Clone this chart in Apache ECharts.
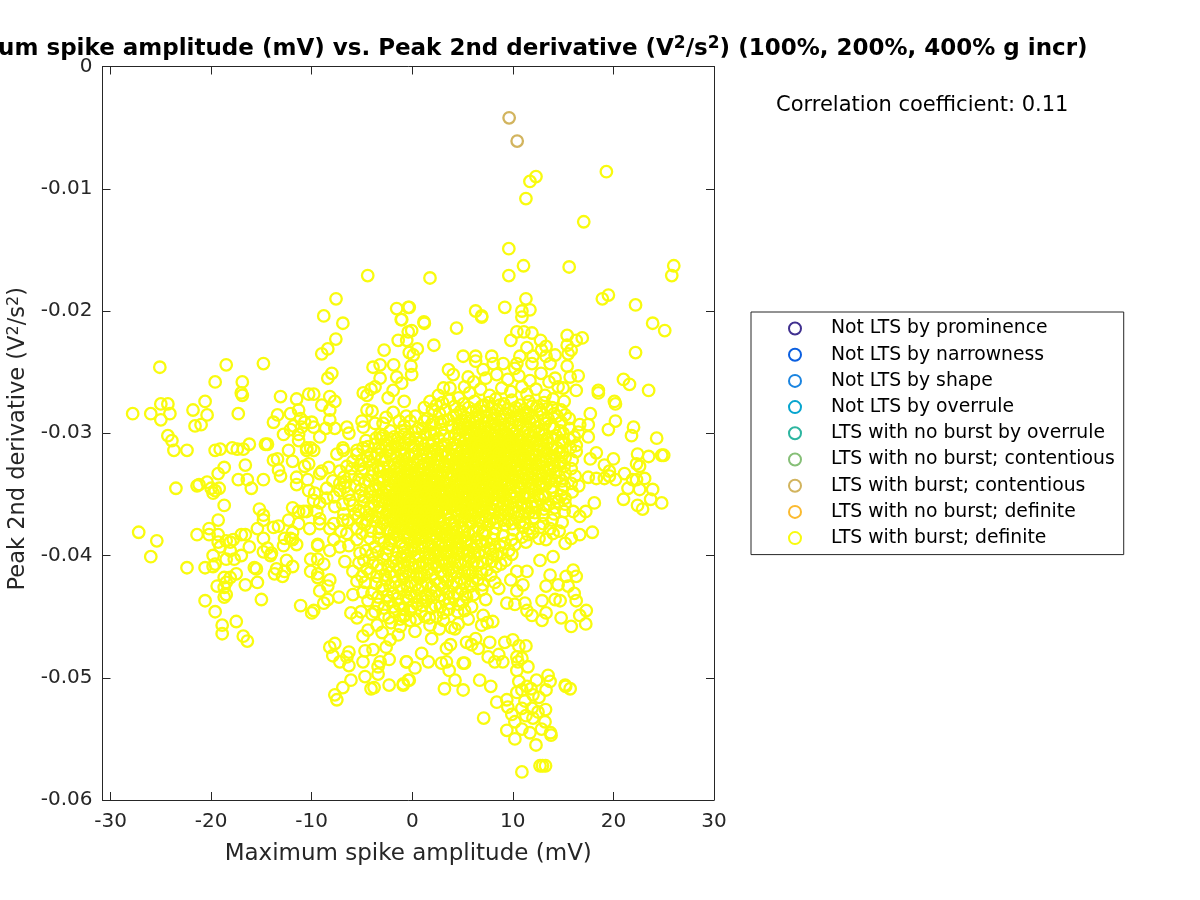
<!DOCTYPE html>
<html>
<head>
<meta charset="utf-8">
<script src="https://cdn.jsdelivr.net/npm/echarts@6/dist/echarts.min.js"></script>
<style>
  html, body { margin: 0; padding: 0; background: #fff; }
  #chart { width: 1200px; height: 900px; }
</style>
</head>
<body>
<div id="chart"></div>
<script>
const X_TICKS = [-30, -20, -10, 0, 10, 20, 30]

const LABELS = [
  'Not LTS by prominence', 'Not LTS by narrowness', 'Not LTS by shape', 'Not LTS by overrule',
  'LTS with no burst by overrule', 'LTS with no burst; contentious', 'LTS with burst; contentious',
  'LTS with no burst; definite', 'LTS with burst; definite',
]
const COLORS = ['#40308f', '#0b5fe0', '#1a84e0', '#06a5cf', '#2db5a0', '#86bf77', '#d2b45e', '#fbba2f', '#f9fb0e']

const burstContentious = [[9.63, -0.0042], [10.43, -0.0061]]

const topOutliers = [
  [12.3,-0.0090],[11.7,-0.0094],[11.3,-0.0108],[19.3,-0.0086],[17.05,-0.0127],[9.6,-0.0149],[11.06,-0.0163],[9.6,-0.0171],
  [15.6,-0.0164],[26,-0.0163],[25.8,-0.0171],[1.76,-0.0173],[-4.43,-0.0171],[11.3,-0.0190],[9.2,-0.0197],[10.9,-0.0200],
  [11.7,-0.0199],[10.9,-0.0205],[19.5,-0.0187],[18.9,-0.0190],[22.2,-0.0195],[23.9,-0.0210],[25.1,-0.0216],[22.2,-0.0234],
  [-0.3,-0.0197],[-1.05,-0.0207],[1.16,-0.0209],[1.2,-0.0210],[6.3,-0.0200],[6.9,-0.0204],[6.9,-0.0205],[4.4,-0.0214],
  [2.15,-0.0228],[-0.06,-0.0216],[-0.4,-0.0217],[-0.55,-0.0224],[0.5,-0.0231],[-0.3,-0.0234],[0.1,-0.0236],[-0.13,-0.0245],
  [-0.06,-0.0252],[9.8,-0.0224],[10.4,-0.0217],[11.1,-0.0217],[11.9,-0.0218],[12.75,-0.0224],[15.4,-0.0220],[16.3,-0.0224],
  [16.9,-0.0222],[15.4,-0.0228],[15.8,-0.0232],[15.5,-0.0235],[13.3,-0.0229],[14.2,-0.0236],[13.3,-0.0237],[11.4,-0.0230],
  [10.7,-0.0237],[10.4,-0.0243],[11.9,-0.0243],[12.85,-0.0232],[13.7,-0.0243],[12,-0.0237],[10.2,-0.0247],[5.06,-0.0237],
  [6.3,-0.0237],[6.3,-0.0241],[7.9,-0.0237],[9.04,-0.0243],[8.05,-0.0243],[7.05,-0.0248],[5.56,-0.0254],[3.6,-0.0248],
  [4.07,-0.0252],[3.75,-0.0263],[3.1,-0.0263],[2.6,-0.0269],[1.76,-0.0274],[16.5,-0.0253],[15.7,-0.0254],[15.4,-0.0245],
  [14.2,-0.0255],[15,-0.0263],[16.3,-0.0265],[18.5,-0.0265],[18.5,-0.0267],[20.1,-0.0274],[21,-0.0256],[21.6,-0.0260],[23.5,-0.0265],
]
const leftUpper = [
  [-7.58,-0.0190],[-8.8,-0.0204],[-6.9,-0.0210],[-7.6,-0.0223],[-8.4,-0.0231],[-9,-0.0235],[-2.8,-0.0232],[-1.55,-0.0198],
  [-0.4,-0.0197],[-1.1,-0.0207],[-1.4,-0.0224],[-25.1,-0.0246],[-18.5,-0.0244],[-14.8,-0.0243],[-19.6,-0.0258],[-16.9,-0.0258],
  [-17,-0.0267],[-16.9,-0.0269],[-27.8,-0.0284],[-26,-0.0284],[-25,-0.0276],[-24.3,-0.0276],[-24.1,-0.0284],[-25,-0.0289],
  [-21.8,-0.0281],[-20.6,-0.0274],[-20.4,-0.0285],[-21.6,-0.0294],[-21,-0.0293],[-17.3,-0.0284],[-13.1,-0.0270],[-11.5,-0.0272],
  [-10.3,-0.0268],[-9.8,-0.0268],[-8.2,-0.0270],[-7.7,-0.0274],[-9,-0.0277],[-8.2,-0.0281],[-8,-0.0251],[-8.4,-0.0255],
  [-3.9,-0.0246],[-3.2,-0.0244],[-1.85,-0.0244],[-13.4,-0.0285],[-13.8,-0.0291],[-12.1,-0.0284],[-11.3,-0.0281],[-11.1,-0.0288],
  [-11.8,-0.0294],[-10.7,-0.0291],[-10,-0.0291],[-12.8,-0.0301],[-12.1,-0.0297],[-11.3,-0.0301],[-11,-0.0295],[-9.8,-0.0295],
  [-9.2,-0.0303],[-8.6,-0.0296],[-7.7,-0.0296],[-8.2,-0.0289],[-6.5,-0.0295],[-6.3,-0.0300],[-24.3,-0.0302],[-23.9,-0.0306],
  [-16.2,-0.0309],[-14.6,-0.0309],[-14.4,-0.0309],[-23.7,-0.0314],[-22.4,-0.0314],[-19.6,-0.0314],[-19.1,-0.0313],[-17.9,-0.0312],
  [-17.4,-0.0313],[-16.8,-0.0313],[-4.87,-0.0267],[-4.5,-0.0269],[-4.1,-0.0264],[-3.7,-0.0262],[-3.2,-0.0255],[-2.4,-0.0271],
  [-1.9,-0.0265],[-1.55,-0.0254],[-1.05,-0.0259],[-0.8,-0.0274],[-4.5,-0.0281],[-4,-0.0282],[-5,-0.0290],[-4.87,-0.0295],
  [-3.7,-0.0292],[-2.9,-0.0292],[-1.9,-0.0283],[-3.2,-0.0301],[-2.2,-0.0298],[-1.05,-0.0298],[-0.4,-0.0303],[-1.4,-0.0308],
  [-6.85,-0.0314],[-5.5,-0.0314],[-10.5,-0.0312],[-10.1,-0.0312],[-12.3,-0.0314],
]
const leftLower = [
  [-18.7,-0.0328],[-19.3,-0.0333],[-16.6,-0.0326],[-17.3,-0.0338],[-16.4,-0.0338],[-16,-0.0345],[-14.8,-0.0338],[-23.5,-0.0345],
  [-21.4,-0.0343],[-21.2,-0.0342],[-20.4,-0.0340],[-20,-0.0345],[-19.6,-0.0347],[-19.2,-0.0345],[-19.8,-0.0349],[-18.7,-0.0359],
  [-19.3,-0.0371],[-20.2,-0.0378],[-20.2,-0.0383],[-21.4,-0.0383],[-27.2,-0.0381],[-25.4,-0.0388],[-26,-0.0401],[-22.4,-0.0410],
  [-20.6,-0.0410],[-19.8,-0.0400],[-19.6,-0.0407],[-19.8,-0.0409],[-19.3,-0.0383],[-19.3,-0.0389],[-19.1,-0.0393],[-18.5,-0.0403],
  [-18.1,-0.0389],[-18.1,-0.0396],[-17.7,-0.0403],[-17,-0.0400],[-18.5,-0.0388],[-17.8,-0.0387],[-17,-0.0383],[-16.6,-0.0383],
  [-16.2,-0.0393],[-15.4,-0.0378],[-14.8,-0.0371],[-15.2,-0.0362],[-14.8,-0.0367],[-14.8,-0.0386],[-13.8,-0.0377],[-13.3,-0.0376],
  [-12.3,-0.0371],[-11.9,-0.0361],[-11.3,-0.0374],[-11.9,-0.0381],[-12.7,-0.0386],[-12.1,-0.0386],[-11.5,-0.0391],[-11.9,-0.0387],
  [-12.8,-0.0392],[-14.8,-0.0397],[-14.4,-0.0394],[-14,-0.0398],[-14.1,-0.0400],[-15.7,-0.0410],[-15.5,-0.0411],[-17.5,-0.0415],
  [-18.7,-0.0418],[-18.1,-0.0418],[-18.5,-0.0422],[-19.4,-0.0425],[-18.7,-0.0426],[-18.5,-0.0432],[-18.7,-0.0434],[-16.6,-0.0424],
  [-15.4,-0.0422],[-15,-0.0436],[-20.6,-0.0437],[-19.6,-0.0446],[-18.9,-0.0457],[-18.9,-0.0464],[-17.5,-0.0454],[-16.8,-0.0466],
  [-16.4,-0.0470],[-11.9,-0.0409],[-13.7,-0.0415],[-12.9,-0.0417],[-13.5,-0.0411],[-12.7,-0.0413],[-12.5,-0.0404],[-11.1,-0.0441],
  [-10,-0.0447],[-9.8,-0.0445],[-10.1,-0.0403],[-10.1,-0.0413],[-9.4,-0.0391],[-9.4,-0.0392],[-9.4,-0.0403],[-9.4,-0.0415],
  [-9.4,-0.0418],[-8.8,-0.0407],[-8.2,-0.0420],[-8.4,-0.0425],[-9.2,-0.0429],[-8.4,-0.0436],[-8.8,-0.0439],[-7.3,-0.0434],
  [-8.2,-0.0475],[-7.7,-0.0472],[-7.9,-0.0482],[-7.2,-0.0487],[-6.5,-0.0483],[-6.3,-0.0479],[-6.3,-0.0490],[-5.9,-0.0432],
  [-6.1,-0.0447],[-5.5,-0.0451],[-5.9,-0.0413],[-5,-0.0417],[-7.7,-0.0514],[-7.5,-0.0518],[-6.9,-0.0508],[-6.1,-0.0502],
  [-4.7,-0.0499],[-4.1,-0.0509],[-3.8,-0.0508],[-2.3,-0.0506],[-0.9,-0.0506],[-0.4,-0.0502],[-4.9,-0.0487],[-4.7,-0.0478],
  [-4.9,-0.0466],[-4.4,-0.0461],[-3.9,-0.0477],[-3.4,-0.0491],[-3.4,-0.0497],[-3.2,-0.0487],[-2.6,-0.0475],[-2.2,-0.0469],
  [-2.3,-0.0485],[-0.6,-0.0487],[-11.9,-0.0323],[-11.3,-0.0306],[-10.5,-0.0314],[-9.8,-0.0314],[-10.3,-0.0325],[-10.7,-0.0327],
  [-9.2,-0.0333],[-9,-0.0331],[-11.5,-0.0336],[-11.5,-0.0342],[-10.4,-0.0338],[-13.1,-0.0335],[-13.3,-0.0330],[-13.8,-0.0322],
  [-13.4,-0.0321],[-10.3,-0.0347],[-9.7,-0.0349],[-9.8,-0.0355],[-8.5,-0.0345],[-7.8,-0.0352],[-7.2,-0.0347],[-8.5,-0.0353],
  [-7.7,-0.0360],[-7.2,-0.0341],[-7.5,-0.0317],[-6.9,-0.0312],[-7.2,-0.0331],[-6.5,-0.0327],[-5.5,-0.0317],[-4.5,-0.0319],
  [-3.5,-0.0317],[-10.5,-0.0364],[-10.8,-0.0364],[-9.2,-0.0370],[-10.2,-0.0378],[-9.2,-0.0374],[-11.3,-0.0364],[-9.5,-0.0364],
  [-7.8,-0.0374],[-6.9,-0.0371],[-8.2,-0.0378],[-6.5,-0.0382],[-5.7,-0.0366],[-5.5,-0.0378],[-7.8,-0.0387],[-7.2,-0.0393],
  [-8.2,-0.0396],[-5.5,-0.0387],[-4.5,-0.0371],[-5.2,-0.0398],[-9.2,-0.0357],
]
const rightFringe = [
  [17.7,-0.0284],[20.2,-0.0276],[20.2,-0.0290],[19.5,-0.0297],[22,-0.0295],[21.8,-0.0302],[24.3,-0.0304],[16.65,-0.0293],
  [17.5,-0.0293],[17.5,-0.0303],[16.5,-0.0299],[16.3,-0.0310],[16.3,-0.0315],[15,-0.0300],[15.2,-0.0285],[15,-0.0308],
  [18.3,-0.0316],[17.7,-0.0321],[20,-0.0321],[19.1,-0.0326],[14.7,-0.0324],[14.75,-0.0325],[14.68,-0.0323],[22.4,-0.0317],[23.5,-0.0319],
  [24.8,-0.0318],[25,-0.0318],[22.3,-0.0325],[22.6,-0.0327],[17.5,-0.0336],[18.3,-0.0337],[19.1,-0.0337],[19.6,-0.0331],
  [19.6,-0.0335],[20.2,-0.0338],[21.1,-0.0333],[23.1,-0.0337],[22.3,-0.0338],[16.55,-0.0343],[21.45,-0.0345],[21.9,-0.0338],
  [22.6,-0.0346],[23.9,-0.0346],[23.7,-0.0354],[21,-0.0354],[24.8,-0.0357],[22.4,-0.0359],[22.9,-0.0362],[18.1,-0.0357],
  [15.2,-0.0353],[16,-0.0364],[17.25,-0.0364],[16.65,-0.0368],[17.9,-0.0381],[16.65,-0.0383],[15.8,-0.0386],[15.2,-0.0390],
  [14,-0.0382],[13.3,-0.0387],[12.7,-0.0404],[14,-0.0401],[11.4,-0.0413],[10.4,-0.0413],[9.8,-0.0420],[11,-0.0424],[10.4,-0.0429],
  [16,-0.0412],[15.3,-0.0417],[16.3,-0.0417],[13.7,-0.0416],[13.3,-0.0425],[14.5,-0.0424],[15.5,-0.0425],[16.1,-0.0431],
  [16.3,-0.0437],[14.7,-0.0437],[14.2,-0.0436],[12.9,-0.0437],[13.3,-0.0447],[14.8,-0.0451],[15.8,-0.0458],[17.25,-0.0456],
  [17.3,-0.0445],[16.65,-0.0449],[12.9,-0.0453],[11.9,-0.0449],[11.4,-0.0445],[11.2,-0.0439],[10.2,-0.0440],[9.4,-0.0439],
]
const bottomTail = [
  [8.2,-0.0422],[8.6,-0.0427],[6.9,-0.0428],[7.3,-0.0436],[5.9,-0.0442],[7.05,-0.0449],[8,-0.0454],[7.45,-0.0455],[6.9,-0.0457],
  [4.25,-0.0460],[5.56,-0.0452],[4.57,-0.0456],[1.93,-0.0468],[1.26,-0.0450],[0.27,-0.0462],[-0.23,-0.0453],[-0.9,-0.0450],
  [1.76,-0.0457],[3.1,-0.0447],[6.3,-0.0468],[5.4,-0.0471],[5.9,-0.0473],[6.55,-0.0476],[7.7,-0.0471],[9.2,-0.0471],[10,-0.0469],
  [10.6,-0.0474],[11.3,-0.0474],[3.8,-0.0473],[3.4,-0.0476],[0.93,-0.0480],[1.6,-0.0487],[-0.56,-0.0487],[0.27,-0.0492],
  [2.9,-0.0488],[3.4,-0.0487],[3.67,-0.0494],[5.06,-0.0488],[5.2,-0.0488],[7.55,-0.0483],[8.2,-0.0487],[8.6,-0.0481],[9,-0.0487],
  [10.4,-0.0483],[10.9,-0.0484],[10.4,-0.0494],[11.5,-0.0491],[10.5,-0.0487],[-0.3,-0.0502],[-0.9,-0.0505],[4.25,-0.0502],
  [6.7,-0.0502],[7.8,-0.0507],[3.2,-0.0509],[5.06,-0.0510],[7.1,-0.0533],[8.4,-0.0520],[12.35,-0.0502],[13.5,-0.0498],
  [13.7,-0.0503],[13.3,-0.0510],[15.2,-0.0506],[15.7,-0.0509],[15.25,-0.0507],[10.4,-0.0512],[11.4,-0.0507],[10.9,-0.0510],
  [12,-0.0514],[9.4,-0.0518],[9.5,-0.0524],[10.9,-0.0525],[11.9,-0.0525],[13.25,-0.0526],[12.5,-0.0528],[9.9,-0.0530],
  [10.2,-0.0536],[12,-0.0533],[13.2,-0.0536],[12.85,-0.0542],[10.9,-0.0542],[9.4,-0.0543],[10.2,-0.0550],[11.7,-0.0545],
  [12.3,-0.0555],[13.8,-0.0547],[13.75,-0.0545],[10.9,-0.0577],[12.95,-0.0572],[12.7,-0.0572],[13.25,-0.0572],[11.2,-0.0519],
  [11.8,-0.0509],[12.6,-0.0516],[11.3,-0.0531],[10.6,-0.0503],
]
// dense middle, estimated by eye
const coreTop = [
  [5.2,-0.0262],[6.1,-0.0258],[7.3,-0.0255],[8.4,-0.0252],[9.5,-0.0256],[10.6,-0.0253],[11.7,-0.0257],[12.8,-0.0251],[13.6,-0.0258],[14.5,-0.0262],
  [4.6,-0.0271],[5.7,-0.0267],[6.8,-0.0264],[7.7,-0.0269],[8.9,-0.0263],[9.8,-0.0266],[10.9,-0.0262],[11.4,-0.0268],[12.3,-0.0264],[13.2,-0.0269],[14,-0.0272],[15.1,-0.0274],
  [1.2,-0.0279],[2.4,-0.0277],[3.3,-0.0281],[4.2,-0.0278],[5.1,-0.0276],[6.2,-0.0274],[6.9,-0.0278],[7.6,-0.0275],[8.3,-0.0272],[9.1,-0.0276],[9.9,-0.0273],[10.7,-0.0277],[11.6,-0.0274],[12.4,-0.0278],[13.1,-0.0275],[13.9,-0.0279],[14.8,-0.0281],
  [0.3,-0.0286],[1.5,-0.0288],[2.7,-0.0284],[3.6,-0.0289],[4.4,-0.0285],[5.3,-0.0287],[5.9,-0.0283],[6.6,-0.0286],[7.2,-0.0282],[7.9,-0.0285],[8.5,-0.0281],[9.3,-0.0284],[10.1,-0.0282],[10.8,-0.0286],[11.3,-0.0283],[12,-0.0287],[12.8,-0.0284],[13.5,-0.0288],[14.4,-0.0286],
  [-0.8,-0.0294],[0.6,-0.0296],[1.9,-0.0293],[2.9,-0.0297],[3.9,-0.0294],[4.7,-0.0292],[5.5,-0.0295],[6.2,-0.0291],[6.8,-0.0294],[7.5,-0.0290],[8.2,-0.0293],[8.8,-0.0289],[9.6,-0.0292],[10.3,-0.0290],[11,-0.0294],[11.7,-0.0291],[12.4,-0.0295],[13.2,-0.0292],[14.1,-0.0296],
]
const coreRight = [
  [4.3,-0.0301],[5,-0.0298],[5.7,-0.0302],[6.4,-0.0299],[7,-0.0303],[7.6,-0.0298],[8.1,-0.0301],[8.7,-0.0297],[9.3,-0.0300],[9.9,-0.0298],[10.5,-0.0302],[11.2,-0.0299],[11.9,-0.0303],[12.6,-0.0300],[13.4,-0.0304],[14.3,-0.0302],
  [4.1,-0.0309],[4.8,-0.0306],[5.4,-0.0310],[6,-0.0307],[6.6,-0.0305],[7.2,-0.0309],[7.8,-0.0306],[8.4,-0.0304],[9,-0.0308],[9.6,-0.0305],[10.2,-0.0309],[10.8,-0.0306],[11.4,-0.0310],[12,-0.0307],[12.7,-0.0311],[13.5,-0.0308],[14.4,-0.0312],
  [3.6,-0.0317],[4.4,-0.0314],[5,-0.0313],[5.6,-0.0317],[6.3,-0.0312],[6.9,-0.0316],[7.4,-0.0313],[8,-0.0311],[8.6,-0.0315],[9.2,-0.0312],[9.8,-0.0316],[10.4,-0.0313],[11,-0.0317],[11.6,-0.0314],[12.3,-0.0318],[13,-0.0315],[13.8,-0.0319],[14.6,-0.0316],
  [3.2,-0.0325],[3.9,-0.0322],[4.6,-0.0321],[5.2,-0.0324],[5.8,-0.0320],[6.5,-0.0323],[7.1,-0.0320],[7.7,-0.0324],[8.3,-0.0319],[8.9,-0.0322],[9.5,-0.0320],[10.1,-0.0324],[10.7,-0.0321],[11.3,-0.0325],[11.9,-0.0322],[12.6,-0.0326],[13.3,-0.0323],[14.1,-0.0327],
  [3.5,-0.0332],[4.2,-0.0329],[4.9,-0.0331],[5.5,-0.0328],[6.1,-0.0332],[6.7,-0.0329],[7.3,-0.0327],[7.9,-0.0331],[8.5,-0.0328],[9.1,-0.0330],[9.7,-0.0327],[10.3,-0.0331],[10.9,-0.0329],[11.5,-0.0333],[12.2,-0.0330],[12.9,-0.0334],[13.7,-0.0331],[14.6,-0.0335],
  [3.1,-0.0339],[3.8,-0.0337],[4.5,-0.0338],[5.1,-0.0335],[5.7,-0.0339],[6.3,-0.0336],[6.9,-0.0340],[7.5,-0.0335],[8.1,-0.0338],[8.7,-0.0336],[9.3,-0.0339],[9.9,-0.0336],[10.5,-0.0340],[11.1,-0.0337],[11.8,-0.0341],[12.5,-0.0338],[13.3,-0.0342],[14.2,-0.0339],[15.1,-0.0343],
  [3.4,-0.0347],[4.1,-0.0344],[4.8,-0.0346],[5.4,-0.0343],[6,-0.0347],[6.6,-0.0344],[7.2,-0.0342],[7.8,-0.0346],[8.4,-0.0344],[9,-0.0347],[9.6,-0.0345],[10.2,-0.0348],[10.8,-0.0345],[11.5,-0.0349],[12.2,-0.0346],[13,-0.0350],[13.9,-0.0347],[14.8,-0.0351],
  [3.6,-0.0354],[4.4,-0.0352],[5.1,-0.0354],[5.7,-0.0351],[6.3,-0.0355],[6.9,-0.0352],[7.5,-0.0350],[8.1,-0.0354],[8.7,-0.0351],[9.3,-0.0355],[9.9,-0.0353],[10.5,-0.0356],[11.2,-0.0353],[11.9,-0.0357],[12.7,-0.0354],[13.6,-0.0358],[14.5,-0.0356],
  [3.3,-0.0362],[4.1,-0.0360],[4.8,-0.0362],[5.4,-0.0359],[6,-0.0363],[6.6,-0.0360],[7.2,-0.0358],[7.8,-0.0362],[8.5,-0.0359],[9.2,-0.0363],[9.9,-0.0361],[10.6,-0.0364],[11.4,-0.0361],[12.2,-0.0365],[13.1,-0.0362],[14.1,-0.0366],
  [3.7,-0.0370],[4.5,-0.0367],[5.2,-0.0369],[5.9,-0.0367],[6.6,-0.0371],[7.3,-0.0368],[8,-0.0370],[8.8,-0.0367],[9.6,-0.0371],[10.4,-0.0369],[11.2,-0.0373],[12.1,-0.0370],[13,-0.0374],
]
const coreLeft = [
  [-4.6,-0.0306],[-3.7,-0.0309],[-2.6,-0.0306],[-1.7,-0.0311],[-0.7,-0.0308],[0.4,-0.0304],[1.3,-0.0301],[1.6,-0.0308],[2.6,-0.0304],[3.2,-0.0309],
  [-4.1,-0.0317],[-3.1,-0.0314],[-2.2,-0.0318],[-1.2,-0.0315],[-0.3,-0.0319],[0.6,-0.0314],[1.4,-0.0317],[2.2,-0.0313],[2.9,-0.0318],
  [-5.2,-0.0326],[-4.3,-0.0323],[-3.4,-0.0327],[-2.7,-0.0322],[-1.8,-0.0325],[-1,-0.0322],[-0.2,-0.0326],[0.5,-0.0322],[1.2,-0.0325],[1.9,-0.0321],[2.6,-0.0327],
  [-6.1,-0.0335],[-5,-0.0332],[-4.1,-0.0335],[-3.2,-0.0331],[-2.5,-0.0334],[-1.8,-0.0331],[-1.1,-0.0335],[-0.5,-0.0330],[0.2,-0.0333],[0.8,-0.0330],[1.5,-0.0334],[2.2,-0.0331],[2.8,-0.0335],
  [-5.7,-0.0343],[-4.7,-0.0340],[-3.7,-0.0343],[-2.9,-0.0339],[-2.2,-0.0342],[-1.6,-0.0338],[-0.9,-0.0341],[-0.3,-0.0338],[0.3,-0.0341],[0.9,-0.0338],[1.5,-0.0342],[2.1,-0.0339],[2.7,-0.0343],
  [-5.2,-0.0351],[-4.2,-0.0348],[-3.4,-0.0351],[-2.6,-0.0347],[-1.9,-0.0350],[-1.3,-0.0346],[-0.7,-0.0349],[-0.1,-0.0346],[0.5,-0.0349],[1.1,-0.0346],[1.7,-0.0350],[2.3,-0.0347],[2.9,-0.0351],
  [-5.9,-0.0359],[-4.8,-0.0356],[-3.8,-0.0359],[-3,-0.0355],[-2.3,-0.0358],[-1.7,-0.0354],[-1,-0.0357],[-0.4,-0.0354],[0.2,-0.0357],[0.8,-0.0354],[1.4,-0.0358],[2,-0.0355],[2.6,-0.0359],
  [-4.3,-0.0367],[-3.4,-0.0364],[-2.6,-0.0366],[-1.9,-0.0362],[-1.3,-0.0365],[-0.7,-0.0362],[-0.1,-0.0365],[0.5,-0.0362],[1.1,-0.0366],[1.7,-0.0363],[2.3,-0.0367],[2.9,-0.0364],
  [-4.7,-0.0375],[-3.7,-0.0372],[-2.9,-0.0374],[-2.2,-0.0370],[-1.5,-0.0373],[-0.9,-0.0370],[-0.3,-0.0373],[0.3,-0.0370],[0.9,-0.0374],[1.5,-0.0371],[2.1,-0.0375],[2.8,-0.0372],
  [-3.3,-0.0381],[-2.5,-0.0378],[-1.8,-0.0381],[-1.1,-0.0378],[-0.5,-0.0381],[0.1,-0.0378],[0.7,-0.0382],[1.3,-0.0379],[1.9,-0.0383],[2.6,-0.0380],
]
const coreBelow = [
  [3.4,-0.0378],[4.2,-0.0375],[5,-0.0377],[5.8,-0.0374],[6.6,-0.0378],[7.5,-0.0375],[8.3,-0.0378],[9.2,-0.0375],[10.1,-0.0379],[11,-0.0377],[12,-0.0381],
  [-2.8,-0.0389],[-1.9,-0.0386],[-1.2,-0.0389],[-0.5,-0.0386],[0.2,-0.0389],[0.9,-0.0386],[1.6,-0.0390],[2.4,-0.0387],[3.2,-0.0385],[4,-0.0383],[4.8,-0.0386],[5.6,-0.0382],[6.4,-0.0386],[7.2,-0.0383],[8.1,-0.0387],[9,-0.0384],[9.9,-0.0387],[10.9,-0.0385],
  [-3.4,-0.0397],[-2.4,-0.0394],[-1.5,-0.0397],[-0.8,-0.0394],[-0.1,-0.0397],[0.6,-0.0394],[1.3,-0.0398],[2.1,-0.0395],[2.9,-0.0392],[3.7,-0.0391],[4.5,-0.0394],[5.3,-0.0390],[6.1,-0.0394],[6.9,-0.0391],[7.8,-0.0395],[8.7,-0.0392],[9.6,-0.0396],
  [-3.9,-0.0406],[-2.9,-0.0403],[-1.9,-0.0405],[-1.1,-0.0402],[-0.4,-0.0405],[0.3,-0.0402],[1,-0.0406],[1.8,-0.0403],[2.6,-0.0400],[3.4,-0.0399],[4.2,-0.0402],[5,-0.0398],[5.8,-0.0402],[6.6,-0.0399],[7.5,-0.0403],[8.4,-0.0400],[9.3,-0.0404],
  [-4.2,-0.0414],[-3.1,-0.0411],[-2.2,-0.0414],[-1.3,-0.0411],[-0.6,-0.0413],[0.1,-0.0410],[0.8,-0.0414],[1.6,-0.0411],[2.4,-0.0409],[3.2,-0.0407],[4,-0.0410],[4.8,-0.0407],[5.6,-0.0411],[6.5,-0.0408],[7.4,-0.0412],[8.3,-0.0409],
  [-3.6,-0.0423],[-2.6,-0.0420],[-1.7,-0.0422],[-0.9,-0.0419],[-0.1,-0.0422],[0.7,-0.0419],[1.5,-0.0423],[2.3,-0.0420],[3.1,-0.0417],[3.9,-0.0416],[4.8,-0.0419],[5.6,-0.0416],[6.5,-0.0420],
  [-4,-0.0431],[-2.9,-0.0428],[-1.9,-0.0431],[-1,-0.0428],[-0.2,-0.0431],[0.6,-0.0428],[1.4,-0.0432],[2.3,-0.0429],[3.1,-0.0426],[4,-0.0425],[4.9,-0.0428],[5.8,-0.0425],
  [-3.4,-0.0440],[-2.3,-0.0437],[-1.3,-0.0440],[-0.4,-0.0437],[0.5,-0.0440],[1.4,-0.0437],[2.3,-0.0441],[3.2,-0.0436],[4.1,-0.0434],[5,-0.0438],
  [-2.8,-0.0449],[-1.7,-0.0446],[-0.7,-0.0449],[2.4,-0.0450],[3.6,-0.0444],[4.5,-0.0446],[-3.5,-0.0457],[-2.1,-0.0455],[-1.2,-0.0458],
]
// blobs that read as solid colour in the picture
const coreSolid = [
  [5.3,-0.0305],[6.8,-0.0301],[8.9,-0.0302],[10,-0.0305],[7.5,-0.0306],[8.2,-0.0308],[9.4,-0.0309],[6.2,-0.0303],[7.1,-0.0312],[8.7,-0.0310],[9.9,-0.0312],[10.6,-0.0310],[5.9,-0.0310],[8.3,-0.0314],[9.5,-0.0314],[6.6,-0.0315],
  [7.6,-0.0317],[8.8,-0.0318],[10.2,-0.0318],[5.3,-0.0319],[6.2,-0.0319],[7.2,-0.0322],[8.5,-0.0322],[9.3,-0.0324],[10.4,-0.0326],[6,-0.0326],[6.9,-0.0326],[8,-0.0326],[8.8,-0.0327],[4.5,-0.0326],[5.2,-0.0329],[6.4,-0.0331],
  [7.6,-0.0330],[8.2,-0.0332],[9.4,-0.0332],[10,-0.0334],[4.6,-0.0333],[5.6,-0.0334],[7,-0.0334],[8.8,-0.0335],[4.2,-0.0340],[5.4,-0.0341],[6,-0.0338],[7.3,-0.0338],[8.4,-0.0341],[9.5,-0.0342],[3.6,-0.0343],[4.5,-0.0342],
  [5.1,-0.0348],[6.3,-0.0342],[7.1,-0.0346],[8.9,-0.0342],[3.9,-0.0349],[5.7,-0.0346],[6.6,-0.0349],[7.6,-0.0349],[4.6,-0.0350],[5.4,-0.0352],[6.2,-0.0353],[3.8,-0.0356],[4.9,-0.0357],[6,-0.0357],[7,-0.0355],[4.2,-0.0363],
  [5.6,-0.0362],[6.9,-0.0363],[4.6,-0.0366],[5.9,-0.0365],[-1.5,-0.0336],[-0.8,-0.0339],[-0.2,-0.0335],[0.5,-0.0336],[1.2,-0.0338],[1.9,-0.0336],[-1.2,-0.0343],[-0.6,-0.0344],[0,-0.0343],[0.6,-0.0344],[1.2,-0.0345],[1.9,-0.0344],
  [-1.6,-0.0349],[-1,-0.0351],[-0.4,-0.0351],[0.2,-0.0352],[0.8,-0.0351],[1.5,-0.0352],[2.1,-0.0351],[-2,-0.0355],[-1.3,-0.0356],[-0.7,-0.0358],[-0.1,-0.0359],[0.5,-0.0359],[1.1,-0.0355],[1.8,-0.0359],[2.4,-0.0355],[-1.6,-0.0361],
  [-1,-0.0363],[-0.3,-0.0362],[0.4,-0.0365],[1,-0.0362],[1.6,-0.0366],[2.3,-0.0362],[-2,-0.0368],[-1.2,-0.0369],[-0.5,-0.0369],[0.2,-0.0368],[0.8,-0.0370],[1.4,-0.0368],[2,-0.0370],[-1.7,-0.0376],[-1,-0.0375],[-0.2,-0.0376],
  [0.6,-0.0376],[1.2,-0.0376],[1.9,-0.0377],[-0.8,-0.0383],[0.3,-0.0384],[1,-0.0384],[3.7,-0.0381],[4.4,-0.0380],[5.2,-0.0380],[6.1,-0.0380],[7,-0.0381],[3.6,-0.0388],[4.5,-0.0389],[5.5,-0.0388],[6.8,-0.0388],[8.1,-0.0382],
  [-3.3,-0.0331],[-1.5,-0.0328],[0,-0.0328],[1.6,-0.0328],[-2.1,-0.0312],[-0.1,-0.0311],[1.9,-0.0310],[3.1,-0.0302],[2.2,-0.0300],[1,-0.0296],[-0.2,-0.0290],[2.1,-0.0290],[3.1,-0.0290],[4.1,-0.0286],
]
// second pass over the right blob, filling the gaps
const denseRight = [
  [5.6,-0.0279],[6.4,-0.0281],[7.1,-0.0277],[7.9,-0.0279],[8.7,-0.0277],[9.5,-0.0280],[10.3,-0.0279],[11.1,-0.0281],[4.8,-0.0282],
  [4.9,-0.0289],[5.7,-0.0290],[6.4,-0.0288],[7.4,-0.0287],[8.1,-0.0288],[9,-0.0286],[9.8,-0.0288],[10.5,-0.0286],[11.3,-0.0288],[12.2,-0.0290],
  [4.6,-0.0296],[5.2,-0.0293],[5.9,-0.0297],[6.5,-0.0294],[7.3,-0.0295],[7.9,-0.0292],[8.5,-0.0295],[9.1,-0.0293],[9.8,-0.0295],[10.6,-0.0293],[11.4,-0.0296],[12.1,-0.0298],
  [3.7,-0.0304],[4.6,-0.0304],[5.5,-0.0300],[6.1,-0.0299],[6.9,-0.0299],[7.3,-0.0302],[8.4,-0.0299],[9.1,-0.0298],[9.6,-0.0302],[10.2,-0.0300],[10.9,-0.0304],[11.6,-0.0301],[12.4,-0.0305],[13.1,-0.0301],
  [3.9,-0.0312],[4.5,-0.0310],[5.1,-0.0308],[5.7,-0.0305],[6.3,-0.0308],[6.9,-0.0307],[7.5,-0.0310],[8.1,-0.0304],[8.8,-0.0306],[9.3,-0.0304],[9.9,-0.0307],[10.5,-0.0306],[11.1,-0.0309],[11.7,-0.0307],[12.4,-0.0310],[13.1,-0.0312],
  [3.3,-0.0319],[4,-0.0318],[4.7,-0.0316],[5.3,-0.0315],[5.9,-0.0314],[6.6,-0.0311],[7.1,-0.0315],[7.8,-0.0314],[8.3,-0.0311],[8.9,-0.0313],[9.6,-0.0310],[10.1,-0.0315],[10.7,-0.0314],[11.3,-0.0312],[11.9,-0.0316],[12.6,-0.0314],[13.4,-0.0316],
  [3.6,-0.0327],[4.2,-0.0325],[4.9,-0.0324],[5.5,-0.0321],[6.1,-0.0322],[6.8,-0.0319],[7.4,-0.0318],[8,-0.0320],[8.6,-0.0317],[9.1,-0.0319],[9.7,-0.0317],[10.4,-0.0320],[11,-0.0319],[11.6,-0.0321],[12.2,-0.0319],[12.9,-0.0323],[13.7,-0.0321],
  [3.9,-0.0334],[4.4,-0.0331],[5.1,-0.0327],[5.8,-0.0329],[6.3,-0.0325],[7,-0.0324],[7.5,-0.0326],[8.2,-0.0323],[8.7,-0.0325],[9.2,-0.0327],[9.9,-0.0323],[10.5,-0.0326],[11.1,-0.0323],[11.7,-0.0327],[12.3,-0.0325],[13,-0.0328],
  [3.4,-0.0341],[4.1,-0.0336],[4.8,-0.0335],[5.3,-0.0333],[6,-0.0335],[6.6,-0.0333],[7.2,-0.0331],[7.8,-0.0328],[8.3,-0.0330],[8.9,-0.0332],[9.5,-0.0329],[10.1,-0.0329],[10.7,-0.0332],[11.3,-0.0330],[11.9,-0.0334],[12.6,-0.0332],[13.4,-0.0335],
  [3.9,-0.0345],[4.7,-0.0339],[5.2,-0.0337],[5.9,-0.0343],[6.5,-0.0339],[7,-0.0337],[7.6,-0.0341],[8.2,-0.0336],[8.9,-0.0339],[9.5,-0.0335],[10.2,-0.0337],[10.8,-0.0341],[11.4,-0.0339],[12,-0.0337],[12.7,-0.0341],[13.6,-0.0339],
  [3.1,-0.0350],[3.7,-0.0352],[4.4,-0.0347],[5,-0.0345],[5.5,-0.0349],[6.2,-0.0346],[6.9,-0.0345],[7.4,-0.0343],[8,-0.0342],[8.6,-0.0345],[9.2,-0.0343],[9.9,-0.0342],[10.5,-0.0344],[11.2,-0.0343],[11.9,-0.0345],[12.6,-0.0343],
  [3.3,-0.0358],[4,-0.0356],[4.6,-0.0355],[5.2,-0.0351],[5.9,-0.0354],[6.5,-0.0351],[7.2,-0.0351],[7.9,-0.0351],[8.4,-0.0349],[9,-0.0351],[9.7,-0.0350],[10.3,-0.0352],[11,-0.0351],[11.7,-0.0352],[12.5,-0.0351],
  [3.5,-0.0366],[4.3,-0.0358],[5,-0.0360],[5.6,-0.0357],[6.2,-0.0359],[6.8,-0.0356],[7.4,-0.0355],[8,-0.0358],[8.6,-0.0356],[9.1,-0.0358],[9.8,-0.0357],[10.4,-0.0360],[11.1,-0.0358],[11.9,-0.0360],
  [3.9,-0.0373],[4.9,-0.0364],[5.5,-0.0366],[6.3,-0.0364],[7,-0.0361],[7.6,-0.0365],[8.2,-0.0363],[8.8,-0.0361],[9.5,-0.0366],[10.1,-0.0365],[10.9,-0.0367],[11.6,-0.0365],
  [4.1,-0.0378],[4.8,-0.0372],[5.6,-0.0373],[6.2,-0.0370],[7,-0.0373],[7.7,-0.0372],[8.4,-0.0373],[9.1,-0.0371],[9.9,-0.0374],[10.7,-0.0373],
]
// second pass over the left blob
const denseLeft = [
  [-2.6,-0.0310],[-1.4,-0.0304],[-0.2,-0.0305],[0.9,-0.0308],[2.1,-0.0306],[-3,-0.0320],[-1.6,-0.0319],[-0.8,-0.0318],[0.2,-0.0317],[1,-0.0318],[1.8,-0.0316],[2.5,-0.0321],
  [-2.3,-0.0327],[-1.2,-0.0328],[-0.6,-0.0325],[0.2,-0.0325],[0.9,-0.0327],[1.6,-0.0324],[2.2,-0.0326],[3,-0.0331],
  [-2.9,-0.0336],[-2.1,-0.0337],[-1.4,-0.0333],[-0.8,-0.0333],[-0.1,-0.0332],[0.5,-0.0332],[1.1,-0.0333],[1.8,-0.0332],[2.5,-0.0333],
  [-3.3,-0.0345],[-2.5,-0.0344],[-1.9,-0.0340],[-1.3,-0.0341],[-0.6,-0.0339],[0,-0.0339],[0.6,-0.0340],[1.2,-0.0340],[1.8,-0.0341],[2.4,-0.0341],[3,-0.0346],
  [-4,-0.0352],[-3,-0.0349],[-2.3,-0.0348],[-1.6,-0.0347],[-1,-0.0346],[-0.4,-0.0347],[0.2,-0.0347],[0.8,-0.0348],[1.4,-0.0347],[2,-0.0348],[2.6,-0.0349],
  [-3.4,-0.0356],[-2.6,-0.0354],[-2,-0.0352],[-1.5,-0.0353],[-0.7,-0.0353],[-0.1,-0.0353],[0.5,-0.0353],[1.1,-0.0352],[1.7,-0.0354],[2.3,-0.0352],[3,-0.0356],
  [-3.1,-0.0361],[-2.2,-0.0360],[-1.3,-0.0360],[-0.8,-0.0360],[-0.2,-0.0357],[0.2,-0.0361],[0.8,-0.0358],[1.4,-0.0361],[2,-0.0359],[2.6,-0.0362],
  [-3.4,-0.0369],[-2.4,-0.0364],[-1.7,-0.0365],[-1,-0.0366],[-0.4,-0.0364],[0.2,-0.0364],[0.8,-0.0364],[1.4,-0.0364],[2,-0.0365],[2.6,-0.0365],
  [-2.7,-0.0371],[-1.9,-0.0372],[-1.2,-0.0372],[-0.6,-0.0371],[0,-0.0372],[0.6,-0.0372],[1.2,-0.0372],[1.8,-0.0372],[2.5,-0.0370],[3.1,-0.0373],
  [-2.3,-0.0380],[-1.4,-0.0378],[-0.8,-0.0378],[-0.2,-0.0379],[0.4,-0.0379],[1,-0.0379],[1.6,-0.0380],[2.2,-0.0379],[2.9,-0.0377],
  [-2.1,-0.0388],[-1.5,-0.0384],[-0.3,-0.0385],[0.6,-0.0387],[1.3,-0.0385],[2,-0.0386],[2.8,-0.0383],[3.5,-0.0383],[-1,-0.0392],[0,-0.0392],[1,-0.0393],[1.9,-0.0392],[2.6,-0.0390],[3.3,-0.0392],[4.2,-0.0387],[5.1,-0.0385],
  [-5.4,-0.0369],[-6.2,-0.0355],[-4.6,-0.0364],[-6.7,-0.0344],[-6.8,-0.0336],[-7.9,-0.0339],[-5.9,-0.0323],[-8.3,-0.0328],[-4.9,-0.0312],[-3.1,-0.0304],
  [-5.3,-0.0406],[-4.6,-0.0396],[-4.2,-0.0386],[-3.7,-0.0393],[-4.7,-0.0422],[-4.4,-0.0437],[-5.1,-0.0446],[-4,-0.0448],[-3,-0.0463],[-1.4,-0.0465],[-0.2,-0.0445],[0.9,-0.0446],[2.7,-0.0460],[3.9,-0.0459],[5.3,-0.0432],[6.1,-0.0432],
]
// third pass over the bands around the two blobs
const bandBelow = [
  [-2.2,-0.0391],[-0.9,-0.0398],[0.2,-0.0395],[1.7,-0.0398],[2.5,-0.0396],[3.3,-0.0397],[4,-0.0395],[4.8,-0.0392],[5.6,-0.0396],[6.4,-0.0392],[7.4,-0.0389],[8.2,-0.0393],[9.2,-0.0390],[10.2,-0.0391],[11.3,-0.0389],
  [-2.6,-0.0399],[-1.6,-0.0402],[-0.6,-0.0400],[0.6,-0.0400],[1.6,-0.0402],[2.2,-0.0400],[3,-0.0403],[3.8,-0.0401],[4.6,-0.0399],[5.5,-0.0400],[6.2,-0.0398],[7.2,-0.0397],[8,-0.0399],[8.9,-0.0398],[9.9,-0.0399],
  [-3.4,-0.0408],[-2.4,-0.0409],[-1.6,-0.0408],[-0.8,-0.0408],[0,-0.0407],[0.7,-0.0409],[1.4,-0.0407],[2.1,-0.0407],[2.9,-0.0405],[3.7,-0.0405],[4.5,-0.0405],[5.3,-0.0405],[6.1,-0.0405],[7,-0.0406],[7.9,-0.0405],[8.8,-0.0407],
  [-3.5,-0.0417],[-2.7,-0.0416],[-1.8,-0.0417],[-1,-0.0415],[-0.3,-0.0416],[0.4,-0.0416],[1.2,-0.0416],[2,-0.0415],[2.8,-0.0413],[3.6,-0.0412],[4.4,-0.0414],[5.2,-0.0413],[6,-0.0414],[6.9,-0.0414],[7.8,-0.0416],
  [-3,-0.0425],[-2.2,-0.0425],[-1.3,-0.0425],[-0.5,-0.0425],[0.3,-0.0424],[1,-0.0425],[1.9,-0.0426],[2.7,-0.0423],[3.5,-0.0421],[4.4,-0.0422],[5.2,-0.0422],[6,-0.0421],[7,-0.0424],
  [-3.4,-0.0434],[-2.5,-0.0433],[-1.5,-0.0435],[-0.6,-0.0434],[0.2,-0.0434],[1,-0.0435],[1.9,-0.0433],[2.7,-0.0433],[3.6,-0.0431],[4.5,-0.0431],[5.4,-0.0434],
  [-2.8,-0.0443],[-1.9,-0.0442],[-0.9,-0.0444],[0,-0.0442],[1,-0.0441],[1.9,-0.0443],[2.8,-0.0442],[3.7,-0.0439],[4.6,-0.0440],[-2.3,-0.0451],[-1.2,-0.0452],[0.4,-0.0452],[1.7,-0.0451],[3.1,-0.0453],[5.2,-0.0445],
]
const bandRight = [
  [11.9,-0.0278],[12.7,-0.0281],[13.4,-0.0280],[14.1,-0.0284],[11.5,-0.0285],[13.1,-0.0289],[14.8,-0.0291],[15.6,-0.0288],[12.9,-0.0297],[13.7,-0.0294],[14.7,-0.0298],[15.6,-0.0296],[16.1,-0.0303],
  [13,-0.0306],[13.9,-0.0304],[14.8,-0.0306],[15.6,-0.0305],[13.9,-0.0313],[14.9,-0.0315],[15.7,-0.0312],[14.2,-0.0319],[15.2,-0.0320],[15.9,-0.0322],[13.9,-0.0325],[15.1,-0.0327],[15.8,-0.0329],
  [13.5,-0.0329],[14.3,-0.0332],[15.2,-0.0333],[16.2,-0.0335],[13.8,-0.0337],[14.9,-0.0339],[15.8,-0.0341],[13,-0.0343],[13.9,-0.0344],[14.9,-0.0346],[15.9,-0.0348],[13.2,-0.0352],[14.2,-0.0353],
  [15.2,-0.0358],[12.4,-0.0359],[13.3,-0.0359],[14.2,-0.0361],[15.1,-0.0364],[12.1,-0.0369],[13,-0.0367],[13.9,-0.0371],[14.9,-0.0373],[11.6,-0.0378],[12.7,-0.0377],[13.7,-0.0378],[14.6,-0.0380],[11.5,-0.0383],[12.6,-0.0386],
]
const bandLeft = [
  [2,-0.0281],[3,-0.0275],[3.7,-0.0273],[2.8,-0.0291],[1.2,-0.0290],[-0.6,-0.0286],[-1.3,-0.0290],[-2.6,-0.0287],[-2.9,-0.0302],[-1.8,-0.0303],[-0.8,-0.0301],[0.3,-0.0299],[1.8,-0.0300],
  [-3.6,-0.0304],[-4.4,-0.0311],[-3.3,-0.0312],[-2.1,-0.0305],[-0.9,-0.0313],[0.2,-0.0310],[1.1,-0.0313],[2.6,-0.0312],[3,-0.0315],[-5,-0.0322],[-3.7,-0.0320],[-2.4,-0.0315],
  [-6,-0.0329],[-4.8,-0.0329],[-3.9,-0.0330],[-2.9,-0.0328],[2.8,-0.0323],[-6.6,-0.0340],[-5.3,-0.0338],[-4.3,-0.0339],[-3.4,-0.0337],[-6.4,-0.0349],[-5.1,-0.0346],[-3.9,-0.0346],[-4.8,-0.0352],
  [-6.9,-0.0358],[-5.3,-0.0363],[-4.2,-0.0361],[-6.4,-0.0371],[-5,-0.0373],[-4,-0.0368],[-3.2,-0.0378],[-6.3,-0.0392],[-5,-0.0382],[-4.1,-0.0380],[-3.3,-0.0386],[-4.8,-0.0404],[-4,-0.0399],
  [-5.5,-0.0421],[-4.5,-0.0411],[-4.9,-0.0430],[-3.7,-0.0446],[-6.7,-0.0405],[-7.1,-0.0380],[-6.8,-0.0366],
]

const burstDefinite = [
  ...topOutliers, ...leftUpper, ...leftLower, ...rightFringe, ...bottomTail,
  ...coreTop, ...coreRight, ...coreLeft, ...coreBelow, ...coreSolid, ...denseRight, ...denseLeft,
  ...bandBelow, ...bandRight, ...bandLeft,
]

const textColor = '#262626'
const font = 'DejaVu Sans'

const series = LABELS.map((name, i) => ({
  name,
  type: 'scatter',
  symbol: 'circle',
  symbolSize: 11.5,
  itemStyle: { color: 'rgba(255,255,255,0)', borderColor: COLORS[i], borderWidth: 2.3, opacity: 1 },
  data: i === 6 ? burstContentious : i === 8 ? burstDefinite : [],
}))

const chart = echarts.init(document.getElementById('chart'), null, { renderer: 'canvas' })

const axisLine = { show: true, onZero: false, lineStyle: { color: textColor, width: 1 } }
const tick = { show: true, inside: true, length: 8, lineStyle: { color: textColor, width: 1 } }

chart.setOption({
  backgroundColor: '#fff',
  animation: false,
  textStyle: { fontFamily: font },
  title: [
    {
      text: 'Maximum spike amplitude (mV) vs. Peak 2nd derivative (V{s|2}/s{s|2}) (100%, 200%, 400% g incr)',
      left: -92,
      top: 30,
      textStyle: {
        fontFamily: font, fontSize: 23, fontWeight: 'bold', color: '#000',
        rich: { s: { fontFamily: font, fontSize: 17, fontWeight: 'bold', color: '#000', padding: [0, 0, 11, 0] } },
      },
    },
    {
      text: 'Correlation coefficient: 0.11',
      left: 771,
      top: 90,
      textStyle: { fontFamily: font, fontSize: 21, fontWeight: 'normal', color: '#000' },
    },
  ],
  legend: {
    orient: 'vertical',
    left: 751,
    top: 312,
    padding: [7, 9, 7, 37],
    itemWidth: 12,
    itemHeight: 12,
    itemGap: 7.2,
    icon: 'circle',
    borderColor: textColor,
    borderWidth: 1,
    selectedMode: false,
    textStyle: { fontFamily: font, fontSize: 18.8, color: '#000', padding: [0, 0, 0, 25] },
    data: LABELS,
  },
  grid: { left: 102.5, right: 486, top: 66.5, bottom: 100, outerBoundsMode: 'none' },
  xAxis: [
    {
      type: 'value', min: -30.8, max: 30, position: 'bottom',
      name: 'Maximum spike amplitude (mV)', nameLocation: 'middle', nameGap: 43,
      nameTextStyle: { fontFamily: font, fontSize: 23, color: textColor },
      axisLine,
      axisTick: { ...tick, customValues: X_TICKS },
      axisLabel: { customValues: X_TICKS, color: textColor, fontFamily: font, fontSize: 20, margin: 12 },
      splitLine: { show: false },
    },
    {
      type: 'value', min: -30.8, max: 30, position: 'top',
      axisLine,
      axisTick: { ...tick, customValues: X_TICKS },
      axisLabel: { show: false },
      splitLine: { show: false },
    },
  ],
  yAxis: [
    {
      type: 'value', min: -0.06, max: 0, interval: 0.01, position: 'left',
      name: 'Peak 2nd derivative (V{s|2}/s{s|2})', nameLocation: 'middle', nameGap: 69, nameRotate: 90,
      nameTextStyle: {
        fontFamily: font, fontSize: 22.5, color: textColor, padding: [0, 11, 0, 0],
        rich: { s: { fontFamily: font, fontSize: 16, color: textColor, padding: [0, 0, 10, 0] } },
      },
      axisLine,
      axisTick: tick,
      axisLabel: { color: textColor, fontFamily: font, fontSize: 20, margin: 10, padding: [2, 0, 0, 0] },
      splitLine: { show: false },
    },
    {
      type: 'value', min: -0.06, max: 0, interval: 0.01, position: 'right',
      axisLine,
      axisTick: tick,
      axisLabel: { show: false },
      splitLine: { show: false },
    },
  ],
  series,
})
</script>
</body>
</html>
